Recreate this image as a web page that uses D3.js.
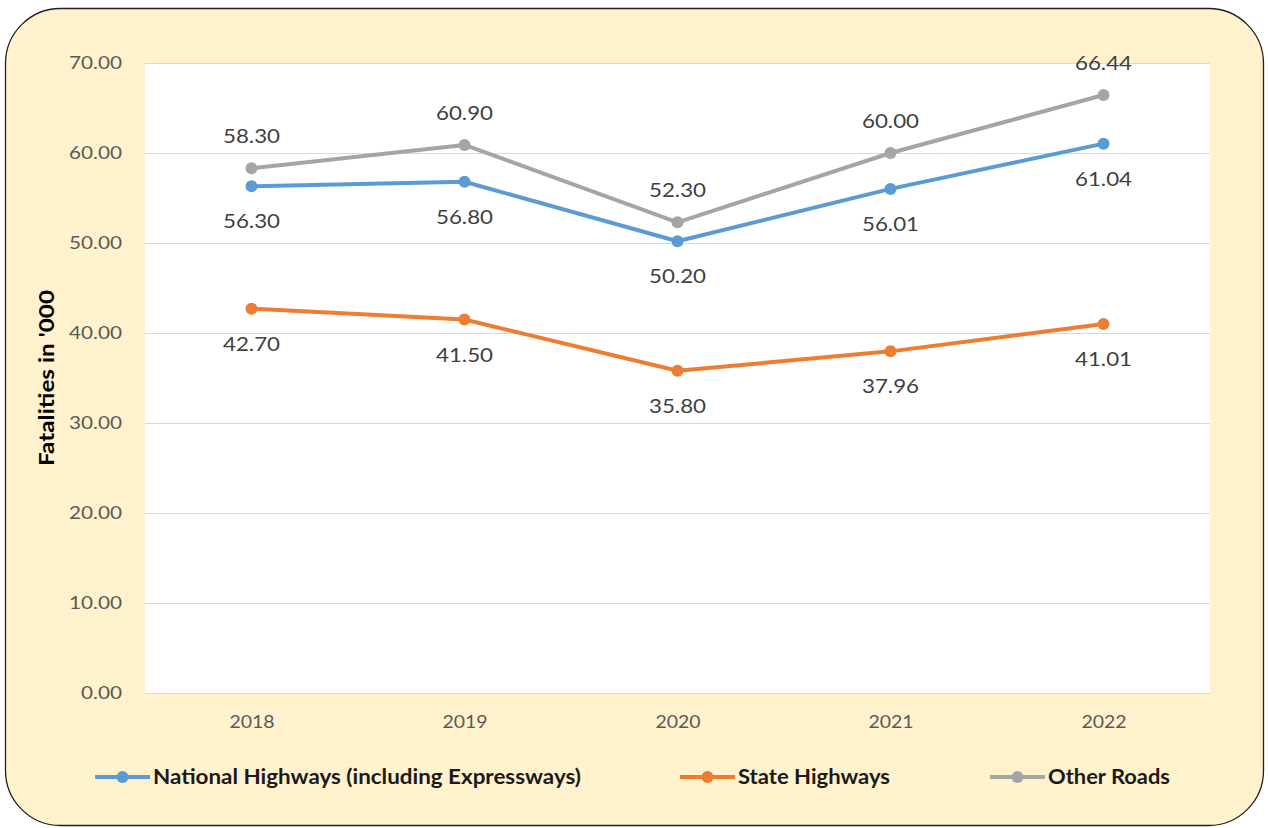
<!DOCTYPE html>
<html>
<head>
<meta charset="utf-8">
<script src="https://cdn.jsdelivr.net/npm/d3@7"></script>
<style>
  body { margin: 0; background: #fff; }
  svg { display: block; font-family: Lato, "Open Sans", sans-serif; }
</style>
</head>
<body>
<div id="chart"></div>
<script>
// data
const years = ["2018", "2019", "2020", "2021", "2022"];
const nationalHw = [56.30, 56.80, 50.20, 56.01, 61.04];
const stateHw = [42.70, 41.50, 35.80, 37.96, 41.01];
const otherRoads = [58.30, 60.90, 52.30, 60.00, 66.44];
const yTicks = [0, 10, 20, 30, 40, 50, 60, 70];

const width = 1268, height = 828;
const plot = {left: 145, right: 1210, top: 63, bottom: 693};

const series = [
  {name: "National Highways (including Expressways)", values: nationalHw, color: "#5b9bd5", labelPos: "below", legendX: 95, textW: 428},
  {name: "State Highways", values: stateHw, color: "#ed7d31", labelPos: "below", legendX: 680, textW: 152},
  {name: "Other Roads", values: otherRoads, color: "#a5a5a5", labelPos: "above", legendX: 990, textW: 122}
];

// stretch text horizontally a bit (the original font is wider than Lato)
function widen(sel, factor) {
  sel.each(function () {
    var w = this.getComputedTextLength();
    d3.select(this).attr("textLength", w * factor).attr("lengthAdjust", "spacingAndGlyphs");
  });
}

var svg = d3.select("#chart").append("svg")
  .attr("width", width).attr("height", height);

// background panel
svg.append("rect")
  .attr("x", 5.5).attr("y", 8.5)
  .attr("width", 1258).attr("height", 817)
  .attr("rx", 55).attr("ry", 55)
  .attr("fill", "#fff2cc")
  .attr("stroke", "#222").attr("stroke-width", 1.3);

var x = d3.scalePoint().domain(years)
  .range([plot.left, plot.right]).padding(0.5);
var y = d3.scaleLinear().domain([0, 70])
  .range([plot.bottom, plot.top]);

// plot area
svg.append("rect")
  .attr("x", plot.left).attr("y", plot.top)
  .attr("width", plot.right - plot.left).attr("height", plot.bottom - plot.top)
  .attr("fill", "#fff");

// grid
svg.append("g")
  .selectAll("line")
  .data(yTicks)
  .enter().append("line")
  .attr("x1", plot.left).attr("x2", plot.right)
  .attr("y1", d => y(d) + 0.5).attr("y2", d => y(d) + 0.5)
  .attr("stroke", "#d9d9d9").attr("stroke-width", 1);

// y axis
var yAxis = svg.append("g")
  .attr("transform", "translate(" + plot.left + ",0)")
  .call(d3.axisLeft(y).tickValues(yTicks).tickFormat(d3.format(".2f")).tickSize(0).tickPadding(23));
yAxis.select(".domain").remove();
yAxis.selectAll("text")
  .attr("font-family", "Lato, sans-serif")
  .attr("font-size", 18).attr("fill", "#595959")
  .call(widen, 1.15);

// x axis
var xAxis = svg.append("g")
  .attr("transform", "translate(0," + plot.bottom + ")")
  .call(d3.axisBottom(x).tickSize(0).tickPadding(22));
xAxis.select(".domain").remove();
xAxis.selectAll("text")
  .attr("font-family", "Lato, sans-serif")
  .attr("font-size", 18).attr("fill", "#595959")
  .call(widen, 1.08);

// y axis title
svg.append("text")
  .attr("transform", "translate(54," + 378 + ") rotate(-90)")
  .attr("text-anchor", "middle")
  .attr("font-size", 20).attr("font-weight", "bold").attr("fill", "#000")
  .attr("textLength", 176).attr("lengthAdjust", "spacingAndGlyphs")
  .text("Fatalities in '000");

// lines
var line = d3.line()
  .x((d, i) => x(years[i]))
  .y(d => y(d));

series.forEach(function (s) {
  var g = svg.append("g");
  g.append("path")
    .attr("d", line(s.values))
    .attr("fill", "none")
    .attr("stroke", s.color).attr("stroke-width", 4)
    .attr("stroke-linejoin", "round");
  g.selectAll("circle")
    .data(s.values)
    .enter().append("circle")
    .attr("cx", (d, i) => x(years[i]))
    .attr("cy", d => y(d))
    .attr("r", 6)
    .attr("fill", s.color);
  g.selectAll("text")
    .data(s.values)
    .enter().append("text")
    .attr("x", (d, i) => x(years[i]))
    .attr("y", d => s.labelPos === "above" ? y(d) - 25 : y(d) + 42)
    .attr("text-anchor", "middle")
    .attr("font-size", 20).attr("fill", "#404040")
    .attr("textLength", 57).attr("lengthAdjust", "spacingAndGlyphs")
    .text(d => d.toFixed(2));

  // legend
  var lg = svg.append("g").attr("transform", "translate(" + s.legendX + ",777)");
  lg.append("line")
    .attr("x1", 0).attr("x2", 55)
    .attr("stroke", s.color).attr("stroke-width", 4);
  lg.append("circle").attr("cx", 27.5).attr("cy", 0).attr("r", 6).attr("fill", s.color);
  lg.append("text")
    .attr("x", 58).attr("y", 7)
    .attr("font-size", 20).attr("font-weight", "bold").attr("fill", "#1a1a1a")
    .attr("textLength", s.textW).attr("lengthAdjust", "spacingAndGlyphs")
    .text(s.name);
});
</script>
</body>
</html>
